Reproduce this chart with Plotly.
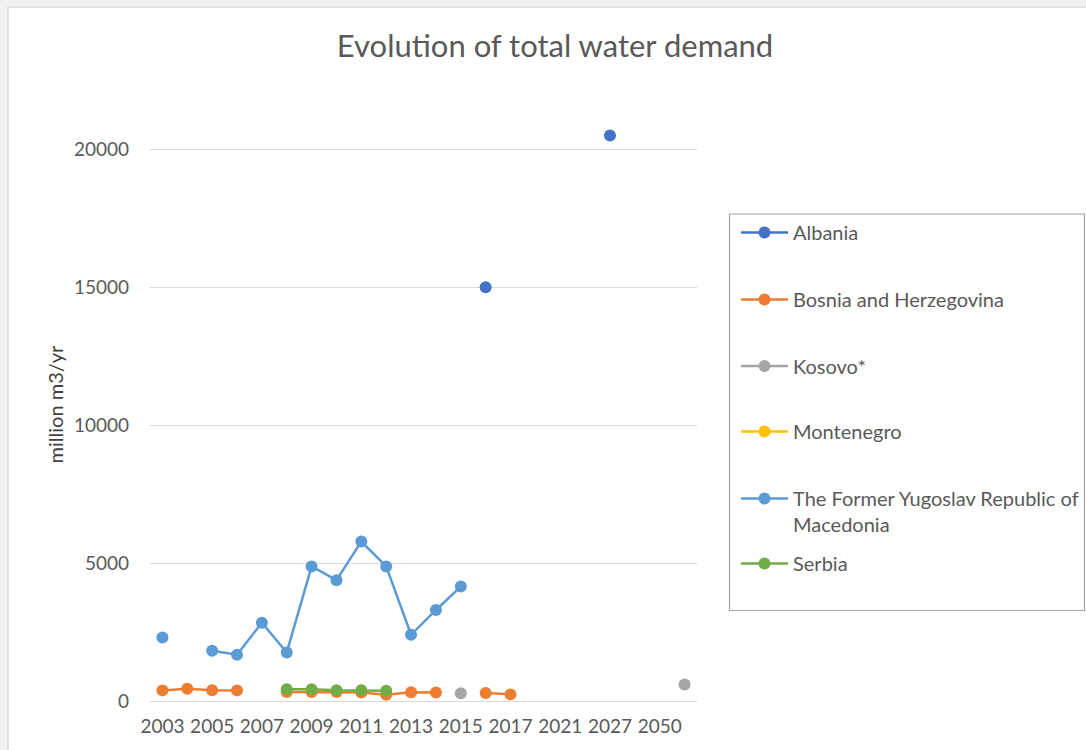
import plotly.graph_objects as go

categories = ["2003", "2004", "2005", "2006", "2007", "2008", "2009", "2010", "2011",
              "2012", "2013", "2014", "2015", "2016", "2017", "2020", "2021", "2025",
              "2027", "2030", "2050", "2060"]
tick_labels = categories[::2]
y_ticks = [0, 5000, 10000, 15000, 20000]

albania = [None]*13 + [15000] + [None]*4 + [20500] + [None]*3
bosnia = [385, 440, 390, 385, None, 330, 330, 330, 310, 230, 320, 310, None, 290, 240] + [None]*7
kosovo = [None]*12 + [280] + [None]*8 + [600]
montenegro = [None]*22
macedonia = [2300, None, 1820, 1680, 2840, 1760, 4880, 4380, 5780, 4880, 2400, 3300, 4150] + [None]*9
serbia = [None]*5 + [430, 430, 390, 390, 370] + [None]*12

series = [
    ("Albania", albania, "#4472C4"),
    ("Bosnia and Herzegovina", bosnia, "#ED7D31"),
    ("Kosovo*", kosovo, "#A5A5A5"),
    ("Montenegro", montenegro, "#FFC000"),
    ("The Former Yugoslav Republic of<br>Macedonia", macedonia, "#5B9BD5"),
    ("Serbia", serbia, "#70AD47"),
]

W, H = 1086, 750
# pixel -> paper helpers for layout placement
L, R, T, B = 150, 697, 108, 701
def px(x):
    return (x - L) / (R - L)
def py(y):
    return (B - y) / (B - T)

FONT = "Lato"
fig = go.Figure()
legend_y = [232, 299, 365.5, 431, 498, 563]
layout_legends = {}
for i, (name, vals, color) in enumerate(series):
    key = "legend" if i == 0 else f"legend{i+1}"
    fig.add_trace(go.Scatter(
        x=categories, y=vals, name=name, mode="lines+markers",
        line=dict(color=color, width=2.5),
        marker=dict(color=color, size=12),
        legend=key,
    ))
    yy = legend_y[i]
    layout_legends[key] = dict(
        x=736 / W, y=1 - (yy - 19) / H, xref="container", yref="container",
        xanchor="left", yanchor="top",
        bgcolor="rgba(0,0,0,0)", borderwidth=0,
        font=dict(family=FONT, size=20, color="#595959"),
        itemwidth=47, valign="top",
    )

fig.update_layout(
    width=W, height=H,
    margin=dict(l=L, r=W - R, t=T, b=H - B),
    paper_bgcolor="#F0F0F0", plot_bgcolor="white",
    title=dict(text="Evolution of total water demand", x=555 / W, xref="container",
               xanchor="center", y=1 - 46 / H, yref="container", yanchor="middle",
               font=dict(family=FONT, size=31, color="#595959")),
    showlegend=True,
    **layout_legends,
)
fig.update_xaxes(
    type="category", categoryorder="array", categoryarray=categories,
    tickmode="array", tickvals=tick_labels, ticktext=tick_labels,
    showgrid=False, showline=True, linecolor="#D9D9D9", linewidth=1,
    ticks="", tickfont=dict(family=FONT, size=19, color="#595959"),
    ticklabelstandoff=8, range=[-0.5, len(categories) - 0.5],
)
fig.update_yaxes(
    range=[0, 21500], tickmode="array", tickvals=y_ticks, ticktext=[str(v) for v in y_ticks],
    showgrid=True, gridcolor="#D9D9D9", gridwidth=1, zeroline=False,
    showline=False, ticks="", ticklabelstandoff=20,
    tickfont=dict(family=FONT, size=19, color="#595959"),
    title=dict(text="million m3/yr", font=dict(family=FONT, size=20, color="#404040"), standoff=4),
)
# white panel and legend frame
fig.add_shape(type="rect", xref="paper", yref="paper", x0=px(8), x1=px(1095), y0=py(760), y1=py(7),
              fillcolor="white", line=dict(color="#DADADA", width=1.5), layer="below")
fig.add_shape(type="rect", xref="paper", yref="paper", x0=px(729.5), x1=px(1084.5), y0=py(610.5), y1=py(214),
              fillcolor="rgba(0,0,0,0)", line=dict(color="#A6A6A6", width=1.2), layer="above")

fig.write_html("out.html", config={"displayModeBar": False},
               post_script="document.body.style.margin='0';document.body.style.overflow='hidden';")
